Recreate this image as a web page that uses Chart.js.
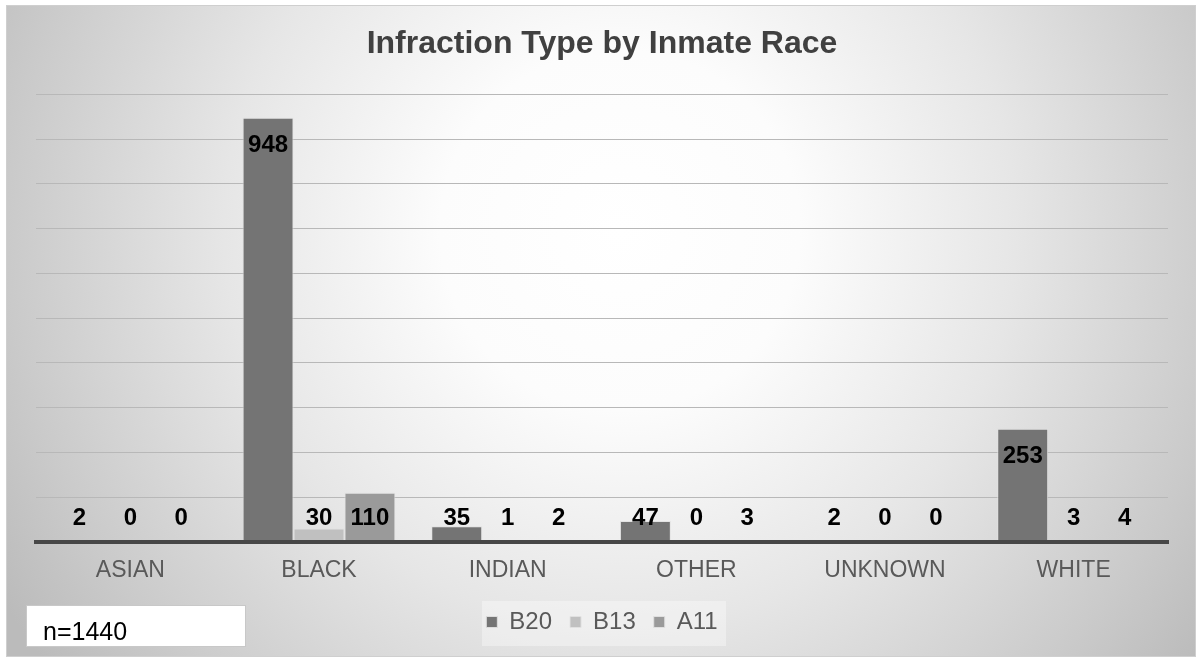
<!DOCTYPE html>
<html>
<head>
<meta charset="utf-8">
<script src="https://cdn.jsdelivr.net/npm/chart.js@4.4.1/dist/chart.umd.min.js"></script>
<style>
  html, body { margin: 0; padding: 0; background: #ffffff; }
  #wrap { width: 1196px; height: 658px; }
</style>
</head>
<body>
<div id="wrap"><canvas id="c" width="1196" height="658"></canvas></div>
<script>
const chartTitle = 'Infraction Type by Inmate Race';
const categories = ['ASIAN', 'BLACK', 'INDIAN', 'OTHER', 'UNKNOWN', 'WHITE'];
const seriesNames = ['B20', 'B13', 'A11'];
const b20 = [2, 948, 35, 47, 2, 253];
const b13 = [0, 30, 1, 0, 0, 3];
const a11 = [0, 110, 2, 3, 0, 4];
const yTicks = [0, 100, 200, 300, 400, 500, 600, 700, 800, 900, 1000];
const noteText = 'n=1440';

const FONT = "'Liberation Sans', Arial, sans-serif";
const seriesColors = ['#747474', '#c0c0c0', '#9a9a9a'];

const backgroundPlugin = {
  id: 'bg',
  beforeDraw(chart) {
    const ctx = chart.ctx;
    ctx.save();
    ctx.fillStyle = '#ffffff';
    ctx.fillRect(0, 0, chart.width, chart.height);
    const g = ctx.createRadialGradient(620, 230, 0, 620, 230, 720);
    g.addColorStop(0, '#ffffff');
    g.addColorStop(0.25, '#fcfcfc');
    g.addColorStop(0.55, '#e6e6e6');
    g.addColorStop(0.85, '#cacaca');
    g.addColorStop(1, '#bbbbbb');
    ctx.fillStyle = g;
    ctx.fillRect(6, 5, chart.width - 6, 652);
    ctx.strokeStyle = '#cfcfcf';
    ctx.lineWidth = 1;
    ctx.strokeRect(6.5, 5.5, chart.width - 7, 651);
    // faint legend panel
    ctx.fillStyle = 'rgba(255,255,255,0.35)';
    ctx.fillRect(482, 601, 244, 45);
    ctx.restore();
  }
};

const labelPlugin = {
  id: 'barLabels',
  afterDatasetsDraw(chart) {
    const ctx = chart.ctx;
    const yScale = chart.scales.y;
    const axisY = yScale.getPixelForValue(0);
    ctx.save();
    ctx.font = "bold 24px " + FONT;
    ctx.fillStyle = '#000000';
    ctx.textAlign = 'center';
    ctx.textBaseline = 'alphabetic';
    chart.data.datasets.forEach((ds, di) => {
      const meta = chart.getDatasetMeta(di);
      meta.data.forEach((bar, i) => {
        const center = Math.min(bar.y + 26, axisY - 26);
        ctx.fillText(String(ds.data[i]), bar.x, center + 8.5);
      });
    });
    ctx.restore();
  },
  afterDraw(chart) {
    const ctx = chart.ctx;
    ctx.save();
    ctx.fillStyle = '#ffffff';
    ctx.fillRect(26, 605, 220, 42);
    ctx.strokeStyle = '#c8c8c8';
    ctx.lineWidth = 1;
    ctx.strokeRect(26.5, 605.5, 219, 41);
    ctx.fillStyle = '#000000';
    ctx.font = "25px " + FONT;
    ctx.textAlign = 'left';
    ctx.textBaseline = 'alphabetic';
    ctx.fillText(noteText, 43, 640);
    ctx.restore();
  }
};

const seriesData = [b20, b13, a11];
new Chart(document.getElementById('c'), {
  type: 'bar',
  data: {
    labels: categories,
    datasets: seriesNames.map((name, k) => ({
      label: name,
      data: seriesData[k],
      backgroundColor: seriesColors[k],
      borderColor: 'rgba(225,225,225,0.9)',
      borderWidth: 1,
      categoryPercentage: 0.81,
      barPercentage: 1.0
    }))
  },
  options: {
    responsive: false,
    animation: false,
    layout: { padding: { left: 36, right: 28, top: 0, bottom: 14 } },
    plugins: {
      title: {
        display: true,
        text: chartTitle,
        color: '#404040',
        font: { family: FONT, size: 32, weight: 'bold' },
        padding: { top: 25, bottom: 31 }
      },
      legend: {
        display: true,
        position: 'bottom',
        labels: {
          color: '#595959',
          font: { family: FONT, size: 24 },
          boxWidth: 11,
          boxHeight: 11,
          padding: 18
        }
      },
      tooltip: { enabled: false }
    },
    scales: {
      x: {
        grid: { display: false, drawTicks: false },
        border: { display: true, color: '#474747', width: 4, z: 1 },
        ticks: { color: '#595959', font: { family: FONT, size: 23 }, padding: 15, maxRotation: 0 },
        afterFit: (s) => { s.height = 50; }
      },
      y: {
        min: 0,
        max: 1000,
        afterBuildTicks: (s) => { s.ticks = yTicks.map(v => ({ value: v })); },
        ticks: { display: false },
        grid: { color: '#b8b8b8', lineWidth: 1, drawTicks: false },
        border: { display: false },
        afterFit: (s) => { s.width = 0; }
      }
    }
  },
  plugins: [backgroundPlugin, labelPlugin]
});
</script>
</body>
</html>
